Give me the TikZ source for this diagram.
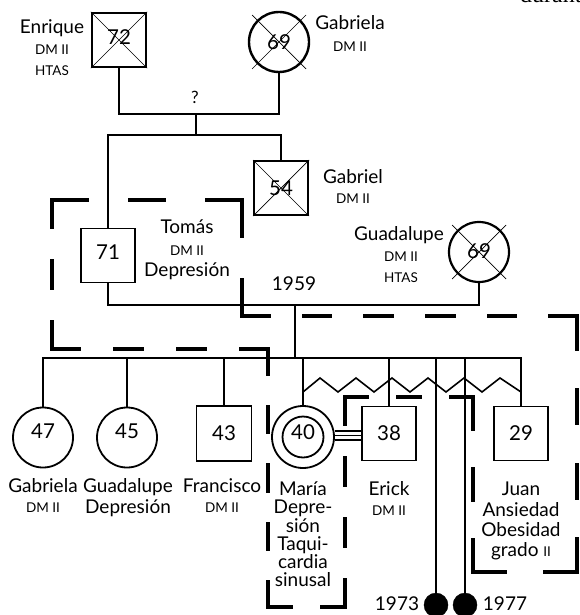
\documentclass[tikz,border=0pt]{standalone}
\usepackage{fontspec}
\setmainfont{Lato}
\newfontfamily\frserif{Liberation Serif}
\usetikzlibrary{calc}
\begin{document}
\begin{tikzpicture}[x=1pt,y=-1pt,
  nm/.style={font=\fontsize{19}{20}\selectfont, inner sep=0, anchor=base},
  sm/.style={font=\fontsize{13.5}{15}\selectfont, inner sep=0, anchor=base},
  sq/.style={draw, line width=1.8pt, minimum size=54pt, inner sep=0, font=\fontsize{20.5}{21}\selectfont},
  ci/.style={draw, circle, line width=1.8pt, minimum size=60pt, inner sep=0, font=\fontsize{20.5}{21}\selectfont},
  ln/.style={line width=1.6pt},
  xl/.style={line width=0.7pt},
  hb/.style={line width=4pt, line cap=rect},
  bd/.style={draw, circle, fill=black, minimum size=24pt, inner sep=0}
]
\useasboundingbox (0,0) rectangle (579,615);
\fill[white] (0,0) rectangle (579,615);

% fragment at the top right
\node[font=\frserif\fontsize{24}{26}\selectfont, anchor=base west, inner sep=0] (frag) at (520,3) {durante};

% ---------------- generation 1
\node[sq, line width=2.4pt, text depth=6pt] (enr) at (119,40) {72};
\node[ci, line width=2.4pt] (gab) at (279,42) {69};
\draw[xl] (enr.north west) -- (enr.south east) (enr.north east) -- (enr.south west);
\draw[xl] ($(gab.center)+(-27,-27)$) -- ($(gab.center)+(27,27)$)
          ($(gab.center)+(27,-27)$) -- ($(gab.center)+(-27,27)$);
\node[nm] (enrn) at (52,33.5) {Enrique};
\node[sm] (enrd) at (52,55) {DM II};
\node[sm] (enrh) at (52,76) {HTAS};
\node[nm] (gabn) at (350,30) {Gabriela};
\node[sm] (gabd) at (350,52) {DM II};

\coordinate (m1) at (196,114);
\coordinate (s1) at (196,135);
\node[nm, font=\fontsize{17}{18}\selectfont] (q) at (195,103) {?};
\draw[ln] (enr.south) |- (m1) -| (gab.south);
\draw[ln] (m1) -- (s1);

% ---------------- generation 2
\node[sq, text depth=7pt] (tom) at (108,255.5) {71};
\node[sq, line width=2pt] (gbl) at (281,188) {54};
\draw[xl] (gbl.north west) -- (gbl.south east) (gbl.north east) -- (gbl.south west);
\draw[ln] (tom.north) |- (s1) -| (gbl.north);
\node[nm] (gbln) at (353,183) {Gabriel};
\node[sm] (gbld) at (353,203) {DM II};
\node[nm] (tomn) at (187,233) {Tomás};
\node[sm] (tomd) at (187,255) {DM II};
\node[nm] (tomp) at (187,276) {Depresión};

\node[ci, line width=2.2pt, text depth=2pt] (gua) at (479,252) {69};
\draw[xl] ($(gua.center)+(-27,-27)$) -- ($(gua.center)+(27,27)$)
          ($(gua.center)+(27,-27)$) -- ($(gua.center)+(-27,27)$);
\node[nm] (guan) at (399,240) {Guadalupe};
\node[sm] (guad) at (401,261) {DM II};
\node[sm] (guah) at (401,282) {HTAS};
\node[nm] (y59) at (294,290) {1959};

\coordinate (m2) at (295,305);
\coordinate (s2) at (295,358);
\draw[ln] (tom.south) |- (m2) -| (gua.south);
\draw[ln] (m2) -- (s2);

% ---------------- generation 3
\node[ci, text depth=12pt] (c1) at (43,437.5) {47};
\node[ci, text depth=12pt] (c2) at (127,437.5) {45};
\node[sq, minimum size=55pt] (c3) at (224,433.5) {43};
\node[ci, minimum size=62pt] (c4) at (303,437) {};
\node[ci, minimum size=41pt, text depth=10pt] (c4i) at (303,437) {40};
\node[sq, line width=1.6pt] (c5) at (389,433.5) {38};
\node[sq, line width=1.6pt] (c8) at (521,433.5) {29};
\node[bd] (b1) at (436,605) {};
\node[bd] (b2) at (465,605) {};

\draw[ln] (c1.north) |- (s2) -| (c8.north);
\foreach \c in {c2,c3,c4,c5,b1,b2}
  \draw[ln] (\c.north) -- (\c.north |- s2);

% zigzag between siblings
\coordinate (zA) at (303,392);
\coordinate (zB) at (521,392);
\draw[ln, line join=miter] (zA) -- ++(17,-14) -- ++(18,14) -- ++(18,-14) -- ++(18,14)
  -- ++(18,-14) -- ++(18,14) -- ++(18,-14) -- ++(18,14) -- ++(18,-14) -- ++(18,14)
  -- ++(18,-14) -- (zB);

% triple line Maria - Erick
\coordinate (tw) at (348,435.5);
\foreach \dy in {-4.5,0,4.5}
  \draw[line width=1.1pt] ([yshift=\dy pt]tw -| c4.east) -- ([yshift=\dy pt]tw -| c5.west);

% labels generation 3
\node[nm] (c1n) at (43,492) {Gabriela};
\node[sm] (c1d) at (43,512) {DM II};
\node[nm] (c2n) at (128,492) {Guadalupe};
\node[nm] (c2d) at (128,513) {Depresión};
\node[nm] (c3n) at (222,492) {Francisco};
\node[sm] (c3d) at (222,512) {DM II};
\node[nm] (c4a) at (303,495) {María};
\node[nm] (c4b) at (303,513) {Depre-};
\node[nm] (c4c) at (303,532) {sión};
\node[nm] (c4d) at (303,550) {Taqui-};
\node[nm] (c4e) at (303,568) {cardia};
\node[nm] (c4f) at (303,586) {sinusal};
\node[nm] (c5n) at (389,495) {Erick};
\node[sm] (c5d) at (389,515) {DM II};
\node[nm] (c8a) at (521,495) {Juan};
\node[nm] (c8b) at (521,516) {Ansiedad};
\node[nm] (c8c) at (521,536) {Obesidad};
\node[nm] (c8d) at (521,556) {grado {\fontsize{13.5}{15}\selectfont II}};
\node[nm] (y73) at (397,610) {1973};
\node[nm] (y77) at (505,610) {1977};

% ---------------- household boundary (dashed)
\coordinate (h1) at (52,200);
\coordinate (h2) at (242,200);
\coordinate (h3) at (242,316);
\coordinate (h4) at (577,316);
\coordinate (h5) at (577,572);
\coordinate (h6) at (473,572);
\coordinate (h7) at (473,397);
\coordinate (h8) at (345,397);
\coordinate (h9) at (345,607);
\coordinate (h10) at (268,607);
\coordinate (h11) at (268,349);
\coordinate (h12) at (52,349);
\draw[hb, dash pattern=on 34.8pt off 42.8pt] (h1) -- (h2);
\draw[hb, dash pattern=on 36pt off 44pt] (h2) -- (h3);
\draw[hb, dash pattern=on 26.82pt off 34.82pt] (h3) -- (h4);
\draw[hb, dash pattern=on 33.14pt off 41.14pt] (h4) -- (h5);
\draw[hb, dash pattern=on 32pt off 40pt] (h5) -- (h6);
\draw[hb, dash pattern=on 31.8pt off 39.8pt] (h6) -- (h7);
\draw[hb, dash pattern=on 22.4pt off 30.4pt] (h7) -- (h8);
\draw[hb, dash pattern=on 26.57pt off 34.57pt] (h8) -- (h9);
\draw[hb, dash pattern=on 23pt off 31pt] (h9) -- (h10);
\draw[hb, dash pattern=on 25.11pt off 33.11pt] (h10) -- (h11);
\draw[hb, dash pattern=on 27.43pt off 35.43pt] (h11) -- (h12);
\draw[hb, dash pattern=on 26.6pt off 34.6pt] (h12) -- (h1);
\end{tikzpicture}
\end{document}
